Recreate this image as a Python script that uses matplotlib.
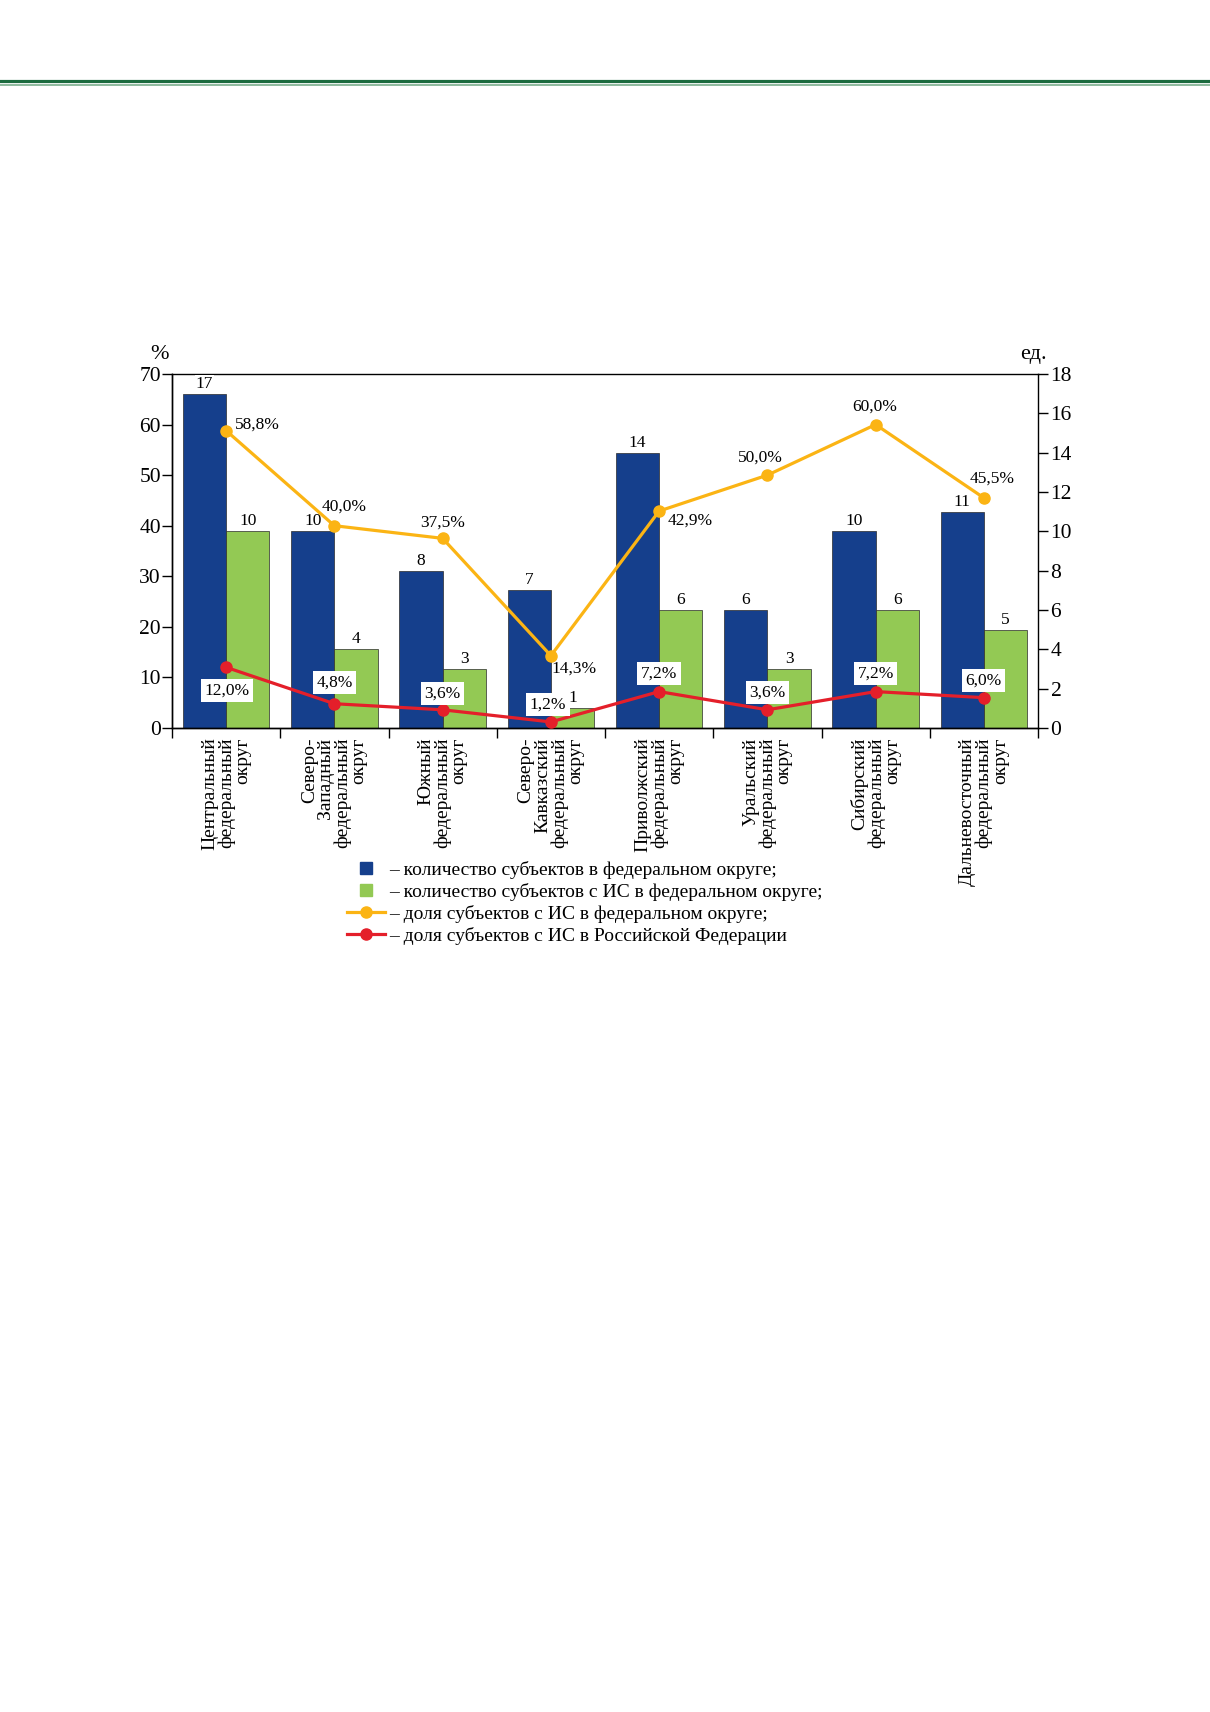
import numpy as np
import matplotlib.pyplot as plt
from matplotlib.lines import Line2D

plt.rcParams['font.family'] = ['Liberation Serif', 'DejaVu Serif']

# data
districts = [
    "Центральный\nфедеральный\nокруг",
    "Северо-\nЗападный\nфедеральный\nокруг",
    "Южный\nфедеральный\nокруг",
    "Северо-\nКавказский\nфедеральный\nокруг",
    "Приволжский\nфедеральный\nокруг",
    "Уральский\nфедеральный\nокруг",
    "Сибирский\nфедеральный\nокруг",
    "Дальневосточный\nфедеральный\nокруг",
]
subjects_total = [17, 10, 8, 7, 14, 6, 10, 11]
subjects_is = [10, 4, 3, 1, 6, 3, 6, 5]
share_district = [58.8, 40.0, 37.5, 14.3, 42.9, 50.0, 60.0, 45.5]
share_russia = [12.0, 4.8, 3.6, 1.2, 7.2, 3.6, 7.2, 6.0]
legend_labels = [
    "– количество субъектов в федеральном округе;",
    "– количество субъектов с ИС в федеральном округе;",
    "– доля субъектов с ИС в федеральном округе;",
    "– доля субъектов с ИС в Российской Федерации",
]

BLUE = "#153f8c"
GREEN = "#93c954"
ORANGE = "#fbb414"
RED = "#e41f2a"

# label placement (pixels): (dx, dy, ha)
orange_offsets = [(9, 6, "left"), (10, 19, "center"), (0, 16, "center"),
                  (1, -13, "left"), (9, -10, "left"), (-7, 18, "center"),
                  (-1, 18, "center"), (8, 19, "center")]
red_offsets = [(1, -23), (0, 21), (0, 16), (-3, 17), (0, 18), (0, 17),
               (0, 18), (0, 17)]

fig = plt.figure(figsize=(12.10, 17.12), dpi=100)

# header rule
fig.add_artist(Line2D([0, 1], [1 - 81.3 / 1712] * 2, color="#1b6b3e", lw=2.3))
fig.add_artist(Line2D([0, 1], [1 - 85.2 / 1712] * 2, color="#86b496", lw=1.3))

# ax: percent (left, lines), ax2: counts (right, bars)
ax = fig.add_axes([172 / 1210, 1 - 728 / 1712, 866 / 1210, 354 / 1712])
ax2 = ax.twinx()
ax.set_zorder(ax2.get_zorder() + 1)
ax.patch.set_visible(False)

x = np.arange(len(districts))
w = 0.4
b1 = ax2.bar(x - w / 2, subjects_total, w, color=BLUE, edgecolor="#2a2a2a", lw=0.5)
b2 = ax2.bar(x + w / 2, subjects_is, w, color=GREEN, edgecolor="#2a2a2a", lw=0.5)
for bars, vals in ((b1, subjects_total), (b2, subjects_is)):
    for r, v in zip(bars, vals):
        ax2.annotate(str(v), (r.get_x() + r.get_width() / 2, v),
                     xytext=(0, 2), textcoords="offset pixels",
                     ha="center", va="bottom", fontsize=12.5, zorder=3,
                     bbox=dict(boxstyle="square,pad=0.05", fc="white", ec="none"))

ax.plot(x, share_district, color=ORANGE, lw=2.3, marker="o", ms=8, zorder=4)
ax.plot(x, share_russia, color=RED, lw=2.3, marker="o", ms=8, zorder=4)
for xi, v, (dx, dy, ha) in zip(x, share_district, orange_offsets):
    ax.annotate(f"{v:.1f}%".replace(".", ","), (xi, v), xytext=(dx, dy),
                textcoords="offset pixels", ha=ha, va="center", fontsize=12.5)
for xi, v, (dx, dy) in zip(x, share_russia, red_offsets):
    ax.annotate(f"{v:.1f}%".replace(".", ","), (xi, v), xytext=(dx, dy),
                textcoords="offset pixels", ha="center", va="center",
                fontsize=12.5, zorder=5,
                bbox=dict(boxstyle="square,pad=0.2", fc="white", ec="none"))

ax.set_xlim(-0.5, len(districts) - 0.5)
ax.set_ylim(0, 70)
ax2.set_ylim(0, 18)
ax.set_yticks(np.arange(0, 71, 10))
ax2.set_yticks(np.arange(0, 19, 2))

ax.set_xticks(np.arange(len(districts) + 1) - 0.5)
ax.set_xticklabels([])
ax.set_xticks(x, minor=True)
ax.set_xticklabels(districts, minor=True, rotation=90, ha="center", va="top",
                   multialignment="right", fontsize=14, linespacing=0.95)
ax.tick_params(axis="x", which="major", length=7, width=1, direction="out")
ax.tick_params(axis="x", which="minor", length=0, pad=7)
ax.tick_params(axis="y", length=7, width=1, pad=1, labelsize=15.5)
ax2.tick_params(axis="y", length=7, width=1, pad=2, labelsize=15.5)

for s in ("top", "right"):
    ax.spines[s].set_visible(False)
for sp in list(ax.spines.values()) + list(ax2.spines.values()):
    sp.set_linewidth(1)

ax.text(-0.015, 1.055, "%", transform=ax.transAxes, ha="center", va="center",
        fontsize=16)
ax.text(0.995, 1.055, "ед.", transform=ax.transAxes, ha="center",
        va="center", fontsize=16)

handles = [
    Line2D([], [], color=BLUE, marker="s", ls="none", ms=9),
    Line2D([], [], color=GREEN, marker="s", ls="none", ms=9),
    Line2D([], [], color=ORANGE, marker="o", lw=2.3, ms=8),
    Line2D([], [], color=RED, marker="o", lw=2.3, ms=8),
]
fig.legend(handles, legend_labels, loc="upper left",
           bbox_to_anchor=(347 / 1210, 1 - 861 / 1712), frameon=False,
           fontsize=14, handlelength=1.95, handletextpad=0.2,
           labelspacing=0.21, borderpad=0, borderaxespad=0)

fig.savefig("out.png", dpi=100)
